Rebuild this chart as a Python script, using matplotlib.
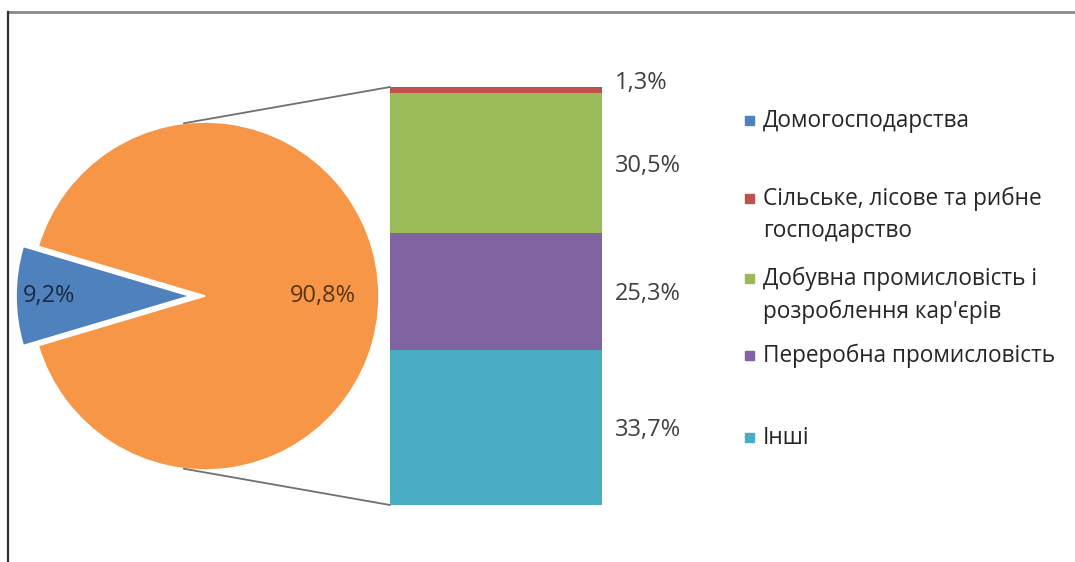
import matplotlib
matplotlib.use("Agg")
import matplotlib.pyplot as plt
from matplotlib.patches import ConnectionPatch, Rectangle
from matplotlib.lines import Line2D
import numpy as np

plt.rcParams['font.family'] = ['Open Sans', 'DejaVu Sans']

# ---- data ----
pie_labels = ['Домогосподарства', 'Інші галузі']
pie_values = [9.2, 90.8]
bar_labels = ['Інші', 'Переробна промисловість',
              'Добувна промисловість і\nрозроблення кар\'єрів',
              'Сільське, лісове та рибне\nгосподарство']
bar_values = [33.7, 25.3, 30.5, 1.3]
legend_order = ['Домогосподарства',
                'Сільське, лісове та рибне\nгосподарство',
                'Добувна промисловість і\nрозроблення кар\'єрів',
                'Переробна промисловість',
                'Інші']

c_blue = '#4F81BD'
c_orange = '#F79646'
c_red = '#C0504D'
c_green = '#9BBB59'
c_purple = '#8064A2'
c_cyan = '#4BACC6'
pie_colors = [c_blue, c_orange]
bar_colors = [c_cyan, c_purple, c_green, c_red]
color_of = {pie_labels[0]: c_blue}
for lab, col in zip(bar_labels, bar_colors):
    color_of[lab] = col

def fmt(v):
    return f'{v:.1f}%'.replace('.', ',')

W, H = 1075, 562
fig = plt.figure(figsize=(W / 100, H / 100), dpi=100)
ax = fig.add_axes([0, 0, 1, 1])

# ---- pie ----
cx, cy, R = 205, 266, 174
start = 180 - pie_values[0] * 3.6 / 2
wedges, _ = ax.pie(pie_values, colors=pie_colors, startangle=start,
                   explode=[15, 0], radius=R, center=(cx, cy),
                   wedgeprops=dict(edgecolor='white', linewidth=1.2))
ax.set_xlim(0, W)
ax.set_ylim(0, H)
ax.set_aspect('equal')
ax.axis('off')

ax.text(49, cy, fmt(pie_values[0]), ha='center', va='center',
        fontsize=17, color='#1c2a40')
ax.text(323, cy, fmt(pie_values[1]), ha='center', va='center',
        fontsize=17, color='#5a3410')

# ---- bar ----
bax = fig.add_axes([390 / W, 57 / H, 212 / W, 418 / H])
bax.set_xlim(-0.5, 0.5)
bax.set_ylim(0, sum(bar_values))
bax.axis('off')
bottom = 0
for lab, val, col in zip(bar_labels, bar_values, bar_colors):
    bax.bar(0, val, width=1.0, bottom=bottom, color=col, edgecolor='none')
    dy = 5 if val < 3 else -2
    bax.annotate(fmt(val), xy=(0.5, bottom + val / 2), xytext=(9, dy),
                 textcoords='offset points', ha='left', va='center',
                 fontsize=17, color='#404040', annotation_clip=False)
    bottom += val

# ---- connectors ----
for ang, yb in [(97, sum(bar_values)), (263, 0)]:
    p = (cx + R * np.cos(np.radians(ang)), cy + R * np.sin(np.radians(ang)))
    con = ConnectionPatch(xyA=p, coordsA=ax.transData,
                          xyB=(-0.5, yb), coordsB=bax.transData,
                          color='#707070', linewidth=1.3)
    fig.add_artist(con)

# ---- legend (manual, Excel-like) ----
legend_y = [120, 198, 278, 355, 437]
for lab, yp in zip(legend_order, legend_y):
    y = H - yp
    ax.add_patch(Rectangle((745, y - 4.5), 9, 9, color=color_of[lab]))
    ax.text(763, y + 11, lab, ha='left', va='top', fontsize=16.3,
            color='#262626', linespacing=1.44)

# ---- frame lines ----
fig.add_artist(Line2D([8 / W, 1], [1 - 12 / H, 1 - 12 / H], color='#8a8a8a', lw=2,
                      transform=fig.transFigure))
fig.add_artist(Line2D([8 / W, 8 / W], [0, 1 - 12 / H], color='#303030', lw=1.6,
                      transform=fig.transFigure))

fig.savefig('out.png', dpi=100)
